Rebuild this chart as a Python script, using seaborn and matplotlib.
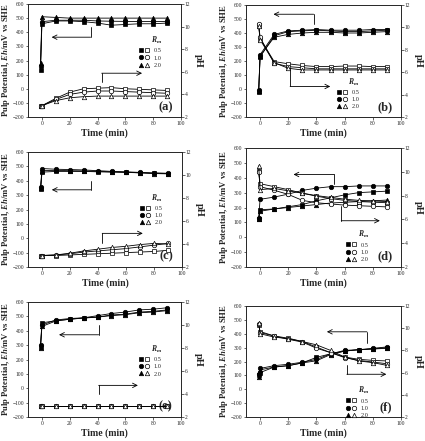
import numpy as np
import pandas as pd
import matplotlib
matplotlib.use("Agg")
import matplotlib.pyplot as plt
import seaborn as sns
from matplotlib.lines import Line2D
from matplotlib.legend_handler import HandlerTuple

sns.set_style("ticks")
plt.rcParams['font.family'] = ['Liberation Serif', 'DejaVu Serif']
plt.rcParams['mathtext.fontset'] = 'custom'
plt.rcParams['mathtext.it'] = 'Liberation Serif:bold:italic'
plt.rcParams['mathtext.rm'] = 'Liberation Serif:bold'
plt.rcParams['mathtext.bf'] = 'Liberation Serif:bold'

# ---------------- data ----------------
time = [-1, 0, 10, 20, 30, 40, 50, 60, 70, 80, 90]
rm_labels = ["0.5", "1.0", "2.0"]
panel_labels = ["(a)", "(b)", "(c)", "(d)", "(e)", "(f)"]

# Eh (mV) : R_m = 0.5, 1.0, 2.0
eh_a = [[130, 460, 480, 480, 475, 465, 450, 455, 460, 460, 465],
        [160, 475, 485, 485, 485, 480, 478, 477, 476, 476, 476],
        [185, 510, 505, 500, 500, 500, 500, 500, 500, 500, 500]]
ph_a = [[3.0, 3.0, 3.65, 4.2, 4.5, 4.55, 4.6, 4.5, 4.45, 4.4, 4.35],
        [3.0, 3.0, 3.55, 4.0, 4.2, 4.3, 4.3, 4.25, 4.2, 4.15, 4.1],
        [3.0, 3.0, 3.45, 3.7, 3.8, 3.85, 3.85, 3.85, 3.85, 3.85, 3.85]]

eh_b = [[-20, 230, 380, 410, 415, 420, 415, 410, 410, 415, 420],
        [-10, 245, 390, 415, 420, 425, 420, 420, 420, 425, 425],
        [-15, 235, 370, 390, 400, 405, 405, 400, 400, 405, 410]]
ph_b = [[10.2, 9.0, 6.95, 6.75, 6.6, 6.5, 6.5, 6.55, 6.55, 6.5, 6.5],
        [10.3, 9.1, 6.8, 6.5, 6.4, 6.3, 6.3, 6.3, 6.3, 6.3, 6.3],
        [10.1, 8.9, 6.85, 6.35, 6.2, 6.2, 6.2, 6.2, 6.2, 6.2, 6.2]]

eh_c = [[340, 460, 465, 465, 465, 462, 460, 458, 455, 452, 450],
        [355, 485, 480, 478, 475, 470, 465, 462, 458, 455, 452],
        [350, 470, 472, 470, 468, 465, 462, 460, 455, 450, 448]]
ph_c = [[3.0, 3.0, 3.0, 3.05, 3.1, 3.15, 3.2, 3.25, 3.3, 3.35, 3.45],
        [3.0, 3.0, 3.05, 3.15, 3.3, 3.4, 3.5, 3.6, 3.75, 3.9, 4.05],
        [3.0, 3.0, 3.05, 3.2, 3.4, 3.55, 3.7, 3.8, 3.95, 4.05, 4.0]]

eh_d = [[125, 185, 190, 205, 220, 245, 265, 285, 300, 305, 310],
        [130, 255, 270, 290, 315, 330, 340, 340, 345, 345, 345],
        [120, 175, 190, 200, 210, 220, 230, 235, 240, 245, 250]]
ph_d = [[10.1, 9.0, 8.75, 8.5, 8.2, 7.95, 7.75, 7.6, 7.5, 7.45, 7.4],
        [10.0, 8.75, 8.45, 8.1, 7.6, 7.4, 7.3, 7.2, 7.15, 7.1, 7.05],
        [10.5, 8.5, 8.6, 8.4, 8.2, 8.0, 7.85, 7.7, 7.6, 7.55, 7.5]]

eh_e = [[290, 455, 470, 480, 490, 495, 510, 515, 530, 535, 545],
        [300, 440, 475, 485, 490, 505, 520, 530, 545, 550, 560],
        [280, 430, 468, 480, 488, 495, 505, 512, 525, 530, 540]]
ph_e = [[3.0, 3.0, 3.0, 3.0, 3.0, 3.0, 3.0, 3.0, 3.0, 3.0, 3.0],
        [3.0, 3.0, 3.0, 3.0, 3.0, 3.0, 3.0, 3.0, 3.0, 3.0, 3.0],
        [3.0, 3.0, 3.0, 3.0, 3.0, 3.0, 3.0, 3.0, 3.0, 3.0, 3.0]]

eh_f = [[100, 120, 160, 170, 190, 230, 255, 275, 285, 290, 295],
        [110, 150, 170, 180, 195, 215, 255, 280, 285, 295, 305],
        [85, 140, 160, 170, 190, 205, 250, 275, 285, 290, 300]]
ph_f = [[10.3, 9.7, 9.3, 9.1, 8.8, 8.3, 7.8, 7.4, 7.2, 7.1, 7.05],
        [10.4, 9.6, 9.3, 9.0, 8.75, 8.2, 7.8, 7.35, 7.1, 6.95, 6.8],
        [10.5, 9.5, 9.2, 9.05, 8.8, 8.5, 8.0, 7.4, 7.05, 6.9, 6.65]]

eh_all = [eh_a, eh_b, eh_c, eh_d, eh_e, eh_f]
ph_all = [ph_a, ph_b, ph_c, ph_d, ph_e, ph_f]
markers = ["s", "o", "^"]

# ---------------- layout (pixel boxes: left, top, right, bottom) ----------------
W, H = 425, 441
boxes = [(28, 4, 181, 117), (246, 5, 401, 117),
         (28, 152, 182, 267), (246, 148, 401, 267),
         (28, 302, 181, 417), (246, 306, 401, 417)]
# arrows: (x_vertical, y_start, y_end, x_end) in Eh data coords
arrows_left = [(35, 440, 365, 7), (38, 467, 534, 9.5), (35, 395, 337, 7),
               (52.6, 356, 422, 23.7), (40.8, 437, 372, 12.3), (75.8, 330, 414, 47.4)]
arrows_right = [(43, 45, 110, 72), (21.3, 148, 18, 49.8), (43, -36, 34, 72),
                (57.6, 211, 111, 85), (40.8, -38, 20, 69), (61.6, 173, 108, 89.6)]
legend_pos = [(0.70, 0.76), (0.56, 0.395), (0.70, 0.68), (0.62, 0.35), (0.70, 0.67), (0.62, 0.32)]

fig = plt.figure(figsize=(W / 100, H / 100), dpi=100)

for i in range(6):
    l, t, r, b = boxes[i]
    ax = fig.add_axes([l / W, 1 - b / H, (r - l) / W, (b - t) / H])
    ax2 = ax.twinx()
    for k in range(3):
        df = pd.DataFrame({"t": time, "eh": eh_all[i][k], "ph": ph_all[i][k]})
        sns.lineplot(data=df, x="t", y="eh", ax=ax, color="k", lw=0.6,
                     marker=markers[k], markersize=3.2, markerfacecolor="k",
                     markeredgecolor="k", markeredgewidth=0.5)
        sns.lineplot(data=df, x="t", y="ph", ax=ax2, color="k", lw=0.6,
                     marker=markers[k], markersize=3.2, markerfacecolor="white",
                     markeredgecolor="k", markeredgewidth=0.5)
    ax.set_xlim(-10, 100)
    ax.set_ylim(-200, 600)
    ax2.set_ylim(2, 12)
    ax.set_xticks(range(0, 101, 20))
    ax.set_yticks(range(-200, 601, 100))
    ax2.set_yticks(range(2, 13, 2))
    for a in (ax, ax2):
        a.tick_params(direction="out", length=1.8, width=0.5, labelsize=4.0, pad=1.0)
        for s in a.spines.values():
            s.set_linewidth(0.6)
            s.set_visible(True)
    ax.set_xlabel("Time (min)", fontsize=7, fontweight="bold", labelpad=2)
    ax.set_ylabel("Pulp Potential, $Eh$/mV vs SHE", fontsize=6.2, fontweight="bold")
    ax.yaxis.set_label_coords(-0.104, 0.5)
    ax2.set_ylabel("pH", fontsize=7.5, fontweight="bold", rotation=-90, labelpad=9)
    ax.text(0.9, 0.09, panel_labels[i], transform=ax.transAxes, fontsize=9,
            fontweight="bold", ha="center", va="center")
    # arrows
    for (xv, y0, y1, xe) in (arrows_left[i], arrows_right[i]):
        ax.plot([xv, xv], [y0, y1], color="k", lw=0.6)
        ax.annotate("", xy=(xe, y1), xytext=(xv, y1),
                    arrowprops=dict(arrowstyle="->", lw=0.6, color="k", mutation_scale=8,
                                    shrinkA=0, shrinkB=0))
    # legend
    handles = []
    for k in range(3):
        hf = Line2D([], [], ls="none", marker=markers[k], markersize=3.2,
                    markerfacecolor="k", markeredgecolor="k", markeredgewidth=0.5)
        ho = Line2D([], [], ls="none", marker=markers[k], markersize=3.2,
                    markerfacecolor="white", markeredgecolor="k", markeredgewidth=0.5)
        handles.append((hf, ho))
    leg = ax2.legend(handles, rm_labels, handler_map={tuple: HandlerTuple(ndivide=None, pad=0.3)},
                     title="$R_m$", fontsize=4.5, title_fontsize=5.5, frameon=False,
                     loc="upper left", bbox_to_anchor=legend_pos[i],
                     handlelength=1.6, handletextpad=0.8, labelspacing=0.3,
                     borderpad=0.1)
    leg._legend_box.align = "right"

fig.savefig("out.png", dpi=100)
